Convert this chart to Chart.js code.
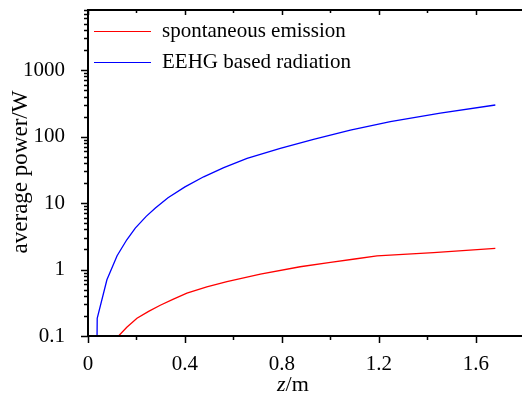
<!DOCTYPE html>
<html>
<head>
<meta charset="utf-8">
<script src="https://cdn.jsdelivr.net/npm/chart.js@4.4.1/dist/chart.umd.min.js"></script>
<style>
  html, body { margin: 0; padding: 0; background: #fff; }
  #wrap { width: 522px; height: 396px; position: relative; }
</style>
</head>
<body>
<div id="wrap"><canvas id="powerChart"></canvas></div>
<script>
/* ── Data ── */
const spontZ     = [0.10, 0.126, 0.16, 0.202, 0.25, 0.298, 0.35, 0.408, 0.49, 0.573, 0.711, 0.875, 1.0, 1.1, 1.192, 1.425, 1.68];
const spontPower = [0.082, 0.1, 0.135, 0.185, 0.235, 0.29, 0.355, 0.44, 0.55, 0.66, 0.85, 1.10, 1.28, 1.44, 1.60, 1.79, 2.08];

const eehgZ     = [0.036, 0.038, 0.078, 0.12, 0.16, 0.195, 0.24, 0.278, 0.33, 0.40, 0.477, 0.56, 0.656, 0.793, 0.93, 1.082, 1.247, 1.453, 1.68];
const eehgPower = [0.03, 0.185, 0.70, 1.61, 2.8, 4.2, 6.3, 8.4, 12, 17.5, 24.8, 34, 47, 66.5, 91, 125, 168, 225, 298];

const seriesLabels = ['spontaneous emission', 'EEHG based radiation'];
const xTicks = [0, 0.4, 0.8, 1.2, 1.6];
const yTicks = [0.1, 1, 10, 100, 1000];

const FONT = "'Liberation Serif', 'Times New Roman', serif";

/* ── Frame, tick marks, axis titles and legend ── */
const framePlugin = {
  id: 'frame',
  afterDraw(chart) {
    const { ctx, chartArea: a, scales: { x, y } } = chart;
    ctx.save();
    ctx.strokeStyle = '#000';
    ctx.lineWidth = 2;
    ctx.beginPath();
    ctx.moveTo(a.left, a.bottom); ctx.lineTo(a.left, a.top); ctx.lineTo(a.right, a.top);
    ctx.moveTo(a.left, a.bottom); ctx.lineTo(a.right, a.bottom);
    ctx.stroke();

    // x ticks (every 0.2, labelled every 0.4)
    ctx.lineWidth = 1.5;
    ctx.beginPath();
    for (let i = 0; i * 0.2 <= x.max; i++) {
      const px = Math.round(x.getPixelForValue(i * 0.2)) + 0.5;
      const major = i % 2 === 0;
      ctx.moveTo(px, a.bottom); ctx.lineTo(px, a.bottom + (major ? 7 : 4));
      ctx.moveTo(px, a.top); ctx.lineTo(px, a.top + (major ? 5 : 3));
    }
    // y ticks (log decades with minor marks)
    for (let d = -1; d <= 3; d++) {
      for (let m = 1; m <= 9; m++) {
        const v = m * Math.pow(10, d);
        if (v > y.max) break;
        const py = Math.round(y.getPixelForValue(v)) + 0.5;
        ctx.moveTo(a.left, py); ctx.lineTo(a.left - (m === 1 ? 7 : 4), py);
      }
    }
    ctx.stroke();

    // axis titles
    ctx.fillStyle = '#000';
    ctx.textBaseline = 'alphabetic';
    ctx.textAlign = 'left';
    ctx.font = 'italic 22px ' + FONT;
    ctx.fillText('z', 277, 391);
    const zw = ctx.measureText('z').width;
    ctx.font = '22px ' + FONT;
    ctx.fillText('/m', 277 + zw, 391);

    ctx.save();
    ctx.translate(27, 172);
    ctx.rotate(-Math.PI / 2);
    ctx.textAlign = 'center';
    ctx.font = '23px ' + FONT;
    ctx.fillText('average power/W', 0, 0);
    ctx.restore();

    // legend
    ctx.font = '21px ' + FONT;
    ctx.textAlign = 'left';
    chart.data.datasets.forEach((ds, i) => {
      const ly = 31 + 31 * i + 0.5;
      ctx.strokeStyle = ds.borderColor;
      ctx.lineWidth = 1;
      ctx.beginPath();
      ctx.moveTo(94, ly); ctx.lineTo(151, ly);
      ctx.stroke();
      ctx.fillText(ds.label, 162, ly + 5);
    });
    ctx.restore();
  }
};

/* ── Chart ── */
new Chart(document.getElementById('powerChart'), {
  type: 'line',
  data: {
    datasets: [
      {
        label: seriesLabels[0],
        data: spontZ.map((z, i) => ({ x: z, y: spontPower[i] })),
        borderColor: '#ff0000',
        borderWidth: 1.3,
        pointRadius: 0,
        tension: 0
      },
      {
        label: seriesLabels[1],
        data: eehgZ.map((z, i) => ({ x: z, y: eehgPower[i] })),
        borderColor: '#0000ff',
        borderWidth: 1.3,
        pointRadius: 0,
        tension: 0
      }
    ]
  },
  options: {
    responsive: true,
    maintainAspectRatio: false,
    animation: false,
    layout: { padding: { top: 10, right: 0, left: 0, bottom: 0 } },
    plugins: { legend: { display: false }, tooltip: { enabled: false } },
    scales: {
      x: {
        type: 'linear',
        min: 0,
        max: 1.79,
        afterBuildTicks: s => { s.ticks = xTicks.map(v => ({ value: v })); },
        afterFit: s => { s.height = 60; s.paddingLeft = 0; s.paddingRight = 0; },
        grid: { display: false },
        border: { display: false },
        ticks: {
          color: '#000',
          padding: 8,
          maxRotation: 0,
          autoSkip: false,
          font: { family: FONT, size: 21 },
          callback: v => (v === 0 ? '0' : v.toFixed(1))
        }
      },
      y: {
        type: 'logarithmic',
        min: 0.1,
        max: 8000,
        afterBuildTicks: s => { s.ticks = yTicks.map(v => ({ value: v })); },
        afterFit: s => { s.width = 88; s.paddingTop = 0; s.paddingBottom = 0; },
        grid: { display: false },
        border: { display: false },
        ticks: {
          color: '#000',
          padding: 15,
          autoSkip: false,
          font: { family: FONT, size: 21 },
          callback: v => String(v)
        }
      }
    }
  },
  plugins: [framePlugin]
});
</script>
</body>
</html>
